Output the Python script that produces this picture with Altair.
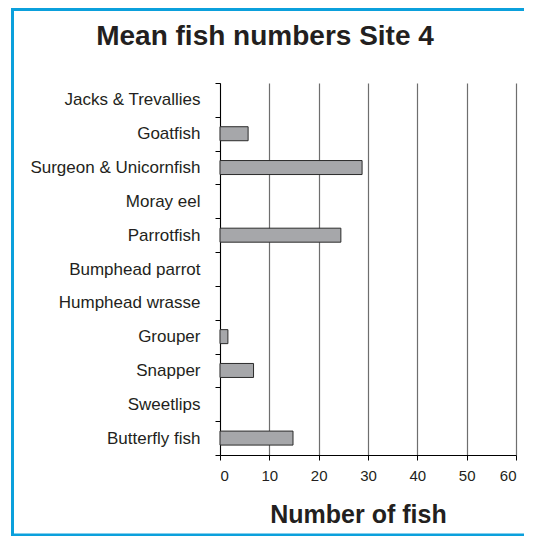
import altair as alt
import pandas as pd

categories = [
    "Jacks & Trevallies",
    "Goatfish",
    "Surgeon & Unicornfish",
    "Moray eel",
    "Parrotfish",
    "Bumphead parrot",
    "Humphead wrasse",
    "Grouper",
    "Snapper",
    "Sweetlips",
    "Butterfly fish",
]
values = [0, 5.7, 28.8, 0, 24.5, 0, 0, 1.6, 6.8, 0, 14.8]
x_ticks = [0, 10, 20, 30, 40, 50, 60]
chart_title = "Mean fish numbers Site 4"

df = pd.DataFrame({"species": categories, "value": values})
one = pd.DataFrame({"a": [0]})

FONT = "Liberation Sans"
INK = "#231f20"
BLUE = "#0ba0dc"

bars = (
    alt.Chart(df)
    .transform_filter("datum.value > 0")
    .mark_bar(size=14, fill="#a6a7aa", stroke="#2b2b2b", strokeWidth=1)
    .encode(
        x=alt.X(
            "value:Q",
            scale=alt.Scale(domain=[0, 60], nice=False, zero=True),
            axis=alt.Axis(
                values=x_ticks,
                grid=True,
                gridColor="#6e6e6e",
                gridWidth=1.2,
                domainColor="#000000",
                tickColor="#000000",
                tickSize=5,
                labelFontSize=15,
                labelColor=INK,
                labelFont=FONT,
                labelPadding=8,
                title="Number of fish",
                titleFont=FONT,
                titleFontSize=25,
                titleFontWeight="bold",
                titleColor=INK,
                titleX=138,
                titleY=67,
                titleAlign="center",
                titleBaseline="alphabetic",
            ),
        ),
        y=alt.Y(
            "species:N",
            scale=alt.Scale(domain=categories, paddingInner=0, paddingOuter=0),
            axis=alt.Axis(
                title=None,
                grid=False,
                tickBand="extent",
                tickSize=5,
                tickColor="#000000",
                domainColor="#000000",
                labelFontSize=17,
                labelFont=FONT,
                labelColor=INK,
                labelPadding=15,
                labelLimit=300,
            ),
        ),
    )
)

frame_top = alt.Chart(one).mark_rule(color=BLUE, strokeWidth=3).encode(
    x=alt.value(-209), x2=alt.value(304), y=alt.value(-73.5)
)
frame_left = alt.Chart(one).mark_rule(color=BLUE, strokeWidth=3).encode(
    x=alt.value(-207.5), y=alt.value(-75), y2=alt.value(453.5)
)
frame_bottom = alt.Chart(one).mark_rule(color=BLUE, strokeWidth=3).encode(
    x=alt.value(-209), x2=alt.value(304), y=alt.value(452)
)

title_text = (
    alt.Chart(one)
    .mark_text(
        text=chart_title,
        font=FONT,
        fontSize=28,
        fontWeight="bold",
        color=INK,
        align="center",
        baseline="alphabetic",
    )
    .encode(x=alt.value(45), y=alt.value(-38.5))
)

chart = (
    alt.layer(frame_top, frame_left, frame_bottom, title_text, bars)
    .properties(
        width=296,
        height=372,
        padding={"left": 212, "top": 75, "right": 12, "bottom": 81},
        autosize=alt.AutoSizeParams(type="none"),
        background="white",
    )
    .configure_view(stroke=None)
)

chart.save("out.html", embed_options={"renderer": "svg", "actions": False})
